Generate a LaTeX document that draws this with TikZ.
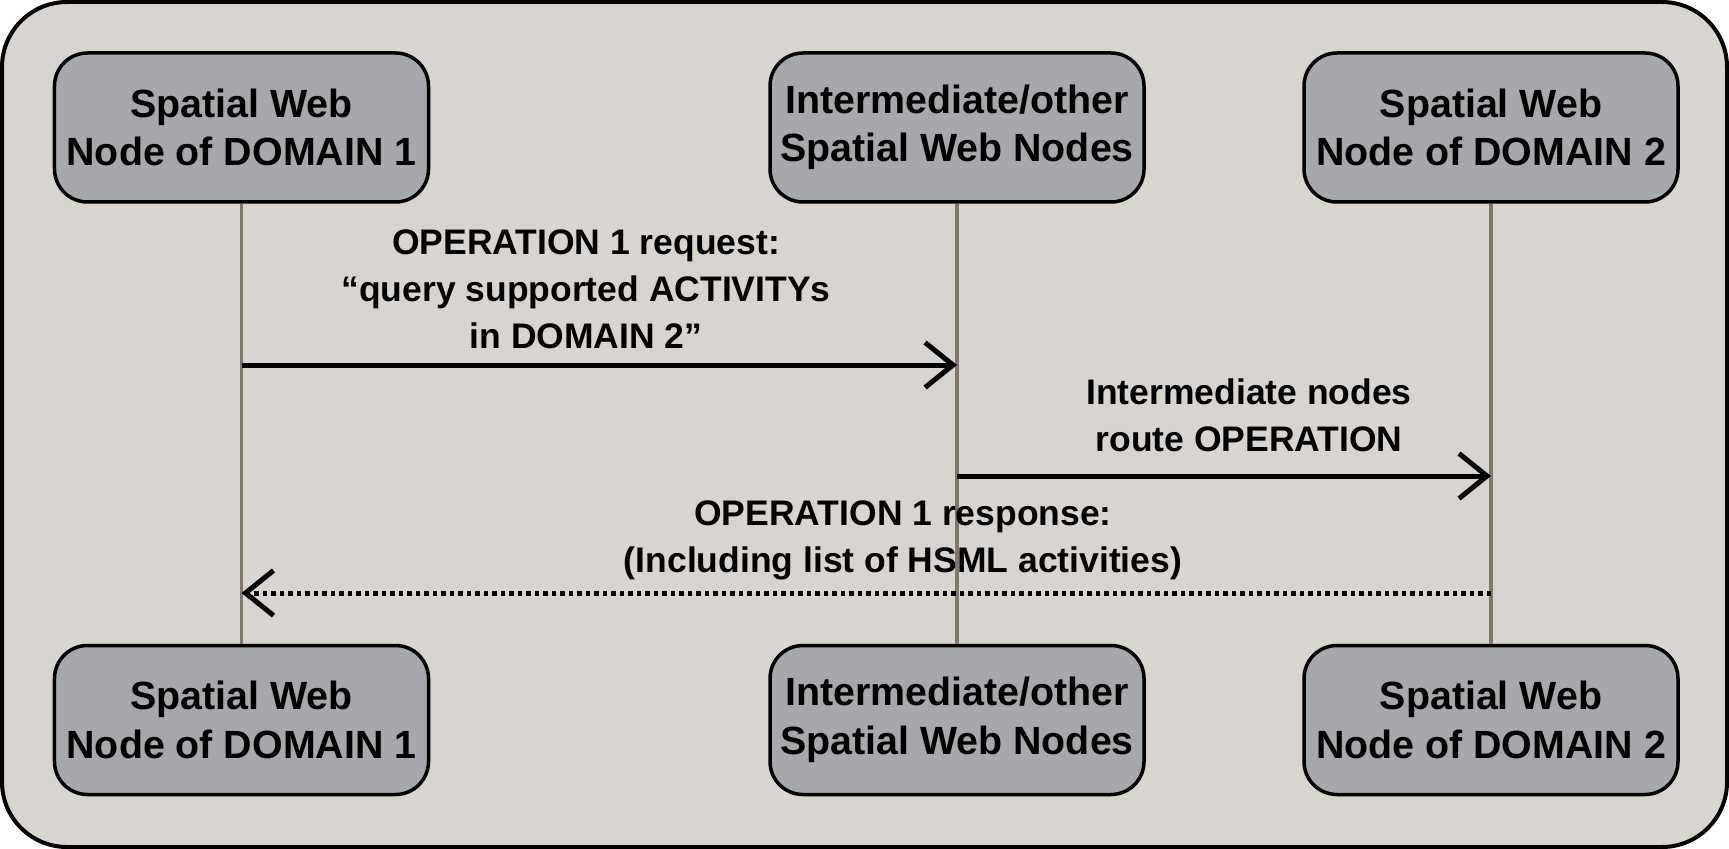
\documentclass[tikz,border=0pt]{standalone}
\usepackage{fontspec}
\setmainfont{Liberation Sans}
\usetikzlibrary{arrows.meta}

\begin{document}
\begin{tikzpicture}[
    >={Straight Barb[length=0.28cm, width=0.45cm, line width=0.05cm]},
    % Colors
    cbg/.style={fill={rgb,255:red,216;green,213;blue,208}},
    cbox/.style={fill={rgb,255:red,167;green,168;blue,172}},
    % Styles
    actor/.style={draw, cbox, rounded corners=0.33cm, minimum width=3.74cm, minimum height=1.49cm,
                  line width=0.035cm, inner sep=0pt, align=center,
                  font=\fontsize{11.2}{13.8}\selectfont\bfseries},
    lifeline/.style={line width=0.035cm, draw={rgb,255:red,128;green,120;blue,106}},
    msg/.style={->, line width=0.05cm},
    reply/.style={msg, dash pattern=on 0.045cm off 0.04cm},
    lbl/.style={align=center, font=\fontsize{10.1}{13.4}\selectfont\bfseries},
  ]

  \useasboundingbox (0,0) rectangle (17.29,-8.49);

  % Frame
  \draw[cbg, line width=0.04cm, rounded corners=0.65cm] (0.02,-0.02) rectangle (17.27,-8.47);

  % Top row
  \node[actor] (d1top) at (2.415, -1.275) {Spatial Web\\Node of DOMAIN 1};
  \node[actor] (midtop) at (9.57, -1.275) {Intermediate/other\\Spatial Web Nodes};
  \node[actor] (d2top) at (14.91, -1.275) {Spatial Web\\Node of DOMAIN 2};

  % Bottom row
  \node[actor] (d1bot) at (2.415, -7.20) {Spatial Web\\Node of DOMAIN 1};
  \node[actor] (midbot) at (9.57, -7.20) {Intermediate/other\\Spatial Web Nodes};
  \node[actor] (d2bot) at (14.91, -7.20) {Spatial Web\\Node of DOMAIN 2};

  % Lifelines
  \draw[lifeline] (d1top.south) -- (d1bot.north);
  \draw[lifeline] (midtop.south) -- (midbot.north);
  \draw[lifeline] (d2top.south) -- (d2bot.north);

  % Message points
  \coordinate (reqA) at (d1top.south |- 0,-3.65);
  \coordinate (reqB) at (midtop.south |- 0,-3.65);
  \coordinate (fwdA) at (midtop.south |- 0,-4.76);
  \coordinate (fwdB) at (d2top.south |- 0,-4.76);
  \coordinate (resA) at (d2top.south |- 0,-5.93);
  \coordinate (resB) at (d1top.south |- 0,-5.93);

  % Messages
  \draw[msg] (reqA) -- (reqB);
  \draw[msg] (fwdA) -- (fwdB);
  \draw[reply] (resA) -- (resB);

  % Labels
  \node[lbl] (reqlbl) at (5.86, -2.89) {OPERATION 1 request:\\“query supported ACTIVITYs\\in DOMAIN 2”};
  \node[lbl] (fwdlbl) at (12.49, -4.15) {Intermediate nodes\\route OPERATION};
  \node[lbl] (reslbl) at (9.03, -5.40) {OPERATION 1 response:\\(Including list of HSML activities)};

\end{tikzpicture}
\end{document}
